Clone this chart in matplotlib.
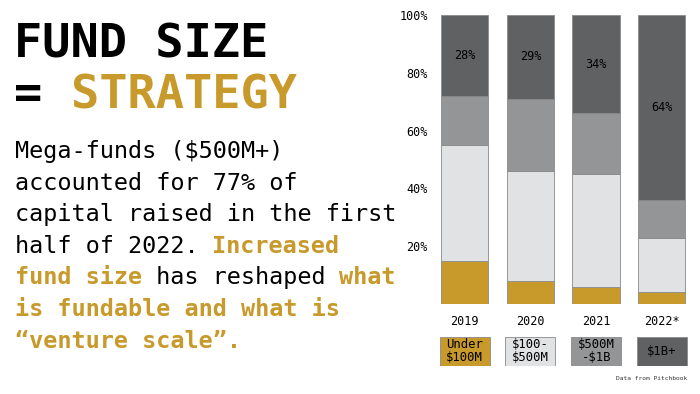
import matplotlib
matplotlib.use("Agg")
import matplotlib.pyplot as plt
import numpy as np

years = ["2019", "2020", "2021", "2022*"]
under_100m = [15, 8, 6, 4]
m100_500 = [40, 38, 39, 19]
m500_1b = [17, 25, 21, 13]
over_1b = [28, 29, 34, 64]
segment_labels = ["Under\n$100M", "$100-\n$500M", "$500M\n-$1B", "$1B+"]
yticks = [20, 40, 60, 80, 100]

GOLD = "#c8992b"
colors = [GOLD, "#e1e2e4", "#949597", "#606163"]
MONO = "DejaVu Sans Mono"

fig = plt.figure(figsize=(7, 3.94), dpi=100)

# texte a gauche, coordonnees en pixels
tx = fig.add_axes([0, 0, 1, 1])
tx.set_xlim(0, 700)
tx.set_ylim(394, 0)
tx.axis("off")

tx.text(14, 57, "FUND SIZE", family=MONO, weight="bold", fontsize=33.8,
        color="black", va="baseline")
tx.text(14, 108, "=", family=MONO, weight="bold", fontsize=33.8,
        color="black", va="baseline")
tx.text(14 + 2 * 28.4, 108, "STRATEGY", family=MONO, weight="bold",
        fontsize=33.8, color=GOLD, va="baseline")

body = [
    [("Mega-funds ($500M+)", False)],
    [("accounted for 77% of", False)],
    [("capital raised in the first", False)],
    [("half of 2022. ", False), ("Increased", True)],
    [("fund size", True), (" has reshaped ", False), ("what", True)],
    [("is fundable and what is", True)],
    [("\u201cventure scale\u201d.", True)],
]
char_w = 14.1
for i, line in enumerate(body):
    y = 158 + i * 31.6
    col = 0
    for seg, hl in line:
        tx.text(15 + col * char_w, y, seg, family=MONO, fontsize=16.9,
                weight="bold" if hl else "normal",
                color=GOLD if hl else "black", va="baseline")
        col += len(seg)

tx.text(687, 379, "Data from Pitchbook", family=MONO, fontsize=4.5,
        ha="right", va="center", color="#333333")

# barres empilees
ax = fig.add_axes([0.617, 0.2284, 0.3754, 0.7335])
x = np.arange(len(years))
series = [under_100m, m100_500, m500_1b, over_1b]
bottom = np.zeros(len(years))
for vals, c in zip(series, colors):
    ax.bar(x, vals, bottom=bottom, width=0.72, color=c,
           edgecolor="#8a8a8a", linewidth=0.6)
    bottom += np.array(vals)

bot_top = bottom - np.array(over_1b)
for i, v in enumerate(over_1b):
    ax.text(x[i], bot_top[i] + v / 2, f"{v}%", ha="center", va="center",
            family=MONO, fontsize=8.5, color="black")

ax.set_xlim(-0.5, len(years) - 0.5)
ax.set_ylim(0, 100)
ax.set_xticks(x)
ax.set_xticklabels(years, family=MONO, fontsize=8.5)
ax.set_yticks(yticks)
ax.set_yticklabels([f"{t}%" for t in yticks], family=MONO, fontsize=8.5)
ax.tick_params(length=0, pad=3)
ax.tick_params(axis="x", pad=8)
for s in ax.spines.values():
    s.set_visible(False)

# legende en cases sous les annees
lg = fig.add_axes([0.617, 0.0718, 0.3754, 0.0736])
lg.bar(x, [1] * len(years), width=0.76, color=colors,
       edgecolor="#8a8a8a", linewidth=0.6)
for i, lab in enumerate(segment_labels):
    lg.text(x[i], 0.5, lab, ha="center", va="center", family=MONO,
            fontsize=8.8, color="black", linespacing=0.95)
lg.set_xlim(-0.5, len(years) - 0.5)
lg.set_ylim(0, 1)
lg.axis("off")

plt.savefig("out.png", dpi=100)
plt.close()
